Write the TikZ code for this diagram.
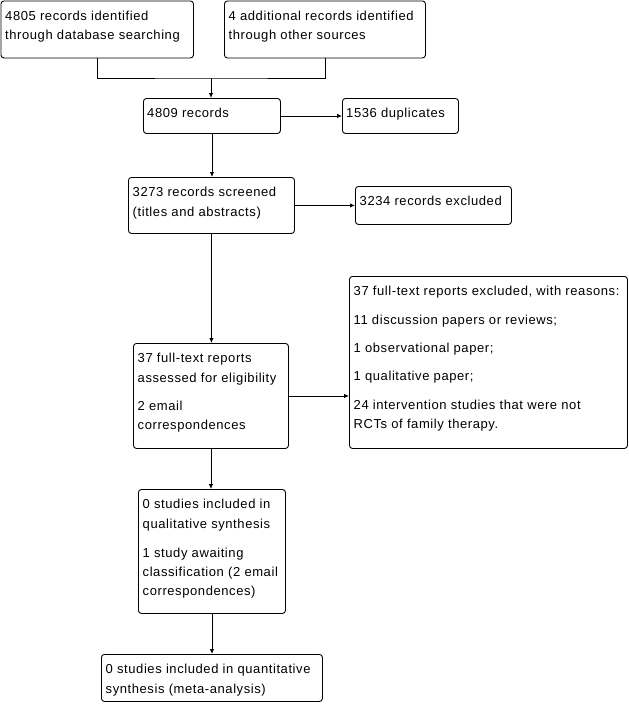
\documentclass[tikz,border=0pt]{standalone}
\usepackage{fontspec}
\setmainfont[LetterSpace=4.5]{Liberation Sans}
\usetikzlibrary{arrows.meta}
\newcommand\mystrut{\rule{0pt}{12pt}}
\tikzset{
  box/.style={draw=black, line width=0.9pt, rounded corners=3pt, inner sep=0pt, anchor=north west},
  txt/.style={anchor=north west, inner sep=0pt, align=left, font=\fontsize{13}{19.4}\selectfont},
  conn/.style={draw=black, line width=0.9pt},
  arr/.style={conn, -{Latex[length=5pt,width=4.5pt]}}
}
\begin{document}
\begin{tikzpicture}[x=1pt,y=-1pt]
\useasboundingbox (0,0) rectangle (629,712);
% boxes
\node[box, minimum width=192.5pt, minimum height=57pt] (a) at (0.5,0.5) {};
\node[box, minimum width=201pt, minimum height=57pt] (b) at (224,0.5) {};
\node[box, minimum width=137pt, minimum height=35pt] (c) at (143,98) {};
\node[box, minimum width=116pt, minimum height=35pt] (d) at (342,98) {};
\node[box, minimum width=166pt, minimum height=56pt] (e) at (128,177) {};
\node[box, minimum width=156pt, minimum height=38pt] (f) at (355,186) {};
\node[box, minimum width=155pt, minimum height=105pt] (g) at (133,343) {};
\node[box, minimum width=278pt, minimum height=172pt] (h) at (349,276) {};
\node[box, minimum width=147pt, minimum height=124pt] (i) at (138,489) {};
\node[box, minimum width=221pt, minimum height=47pt] (j) at (101,654) {};
% texts
\node[txt] (ta) at ([xshift=4.5pt,yshift=-7.5pt]a.north west) {\mystrut 4805 records identified\\through database searching};
\node[txt] (tb) at ([xshift=4.5pt,yshift=-7.5pt]b.north west) {\mystrut 4 additional records identified\\through other sources};
\node[txt] (tc) at ([xshift=4pt,yshift=-7.5pt]c.north west) {\mystrut 4809 records};
\node[txt] (td) at ([xshift=4pt,yshift=-7.5pt]d.north west) {\mystrut 1536 duplicates};
\node[txt] (te) at ([xshift=4.5pt,yshift=-7.5pt]e.north west) {\mystrut 3273 records screened\\(titles and abstracts)};
\node[txt] (tf) at ([xshift=4.5pt,yshift=-7.5pt]f.north west) {\mystrut 3234 records excluded};
\node[txt] (tg) at ([xshift=4.5pt,yshift=-7.5pt]g.north west) {\mystrut 37 full-text reports\\assessed for eligibility\\[8.5pt]2 email\\correspondences};
\node[txt] (th) at ([xshift=4.5pt,yshift=-7.5pt]h.north west) {\mystrut 37 full-text reports excluded, with reasons:\\[9pt]11 discussion papers or reviews;\\[9pt]1 observational paper;\\[9pt]1 qualitative paper;\\[9pt]24 intervention studies that were not\\RCTs of family therapy.};
\node[txt] (ti) at ([xshift=4.5pt,yshift=-7.5pt]i.north west) {\mystrut 0 studies included in\\qualitative synthesis\\[9.5pt]1 study awaiting\\classification (2 email\\correspondences)};
\node[txt] (tj) at ([xshift=4.5pt,yshift=-7.5pt]j.north west) {\mystrut 0 studies included in quantitative\\synthesis (meta-analysis)};
% connectors
\coordinate (m) at (211,78);
\draw[conn] (a.south) |- (m) -| (b.south);
\draw[arr] (m) -- (m |- c.north);
\draw[arr] (c.east) -- (c.east -| d.west);
\draw[arr] (c.south) -- (c.south |- e.north);
\draw[arr] (e.east) -- (e.east -| f.west);
\draw[arr] (e.south) -- (e.south |- g.north);
\draw[arr] (g.east) -- (g.east -| h.west);
\draw[arr] (g.south) -- (g.south |- i.north);
\draw[arr] (i.south) -- (i.south |- j.north);
\end{tikzpicture}
\end{document}
